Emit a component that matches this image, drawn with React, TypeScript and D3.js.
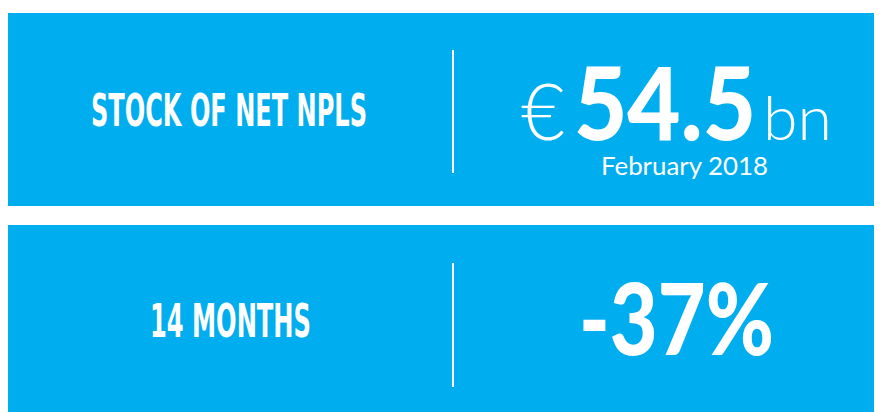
import React from "react";
import * as d3 from "d3";

const rowIds = ["stock", "change"];
const labels = ["STOCK OF NET NPLS", "14 MONTHS"];
const currency = "€";
const stockValue = "54.5";
const stockUnit = "bn";
const stockDate = "February 2018";
const changeValue = "-37%";

const W = 882;
const H = 412;
const BLUE = "#00AEEF";

export default function App() {
  const y = d3.scaleBand<string>().domain(rowIds).range([13, 418]).paddingInner(19 / 212);
  const bw = y.bandwidth();
  const r1 = y("stock")!;
  const r2 = y("change")!;
  const condensed = "'DejaVu Sans Condensed', 'DejaVu Sans', sans-serif";
  const round = "Lato, 'Open Sans', sans-serif";
  return (
    <svg width={W - 8} height={H - 8} style={{ display: "block", overflow: "hidden" }}>
      <g transform="translate(-8,-8)">
        {rowIds.map((id) => (
          <rect key={id} x={8} y={y(id)!} width={W - 8} height={bw} fill={BLUE} />
        ))}
        {/* dividers */}
        <rect x={452} y={r1 + 37} width={2} height={123} fill="#fff" />
        <rect x={452} y={r2 + 38} width={2} height={124} fill="#fff" />

        {/* labels */}
        <text x={91} y={r1 + 113} fill="#fff" fontFamily={condensed} fontWeight={700} fontSize={45}
          textLength={276} lengthAdjust="spacingAndGlyphs" style={{ fontStretch: "condensed" }}>
          {labels[0]}
        </text>
        <text x={150} y={r2 + 112} fill="#fff" fontFamily={condensed} fontWeight={700} fontSize={46}
          textLength={161} lengthAdjust="spacingAndGlyphs" style={{ fontStretch: "condensed" }}>
          {labels[1]}
        </text>

        {/* value row 1 */}
        <text x={521} y={r1 + 127} fill="#fff" fontFamily={round} fontWeight={300} fontSize={79}
          textLength={44} lengthAdjust="spacingAndGlyphs">
          {currency}
        </text>
        <text x={574} y={r1 + 127} fill="#fff" fontFamily={round} fontWeight={900} fontSize={101}
          textLength={182} lengthAdjust="spacingAndGlyphs">
          {stockValue}
        </text>
        <text x={763} y={r1 + 127} fill="#fff" fontFamily={round} fontWeight={300} fontSize={62}
          textLength={69} lengthAdjust="spacingAndGlyphs">
          {stockUnit}
        </text>
        <text x={601} y={r1 + 162} fill="#fff" fontFamily={round} fontWeight={400} fontSize={25}
          textLength={167} lengthAdjust="spacingAndGlyphs">
          {stockDate}
        </text>

        {/* value row 2 */}
        <text x={579} y={r2 + 130} fill="#fff" fontFamily={round} fontWeight={900} fontSize={100}
          textLength={195} lengthAdjust="spacingAndGlyphs">
          {changeValue}
        </text>
      </g>
    </svg>
  );
}
